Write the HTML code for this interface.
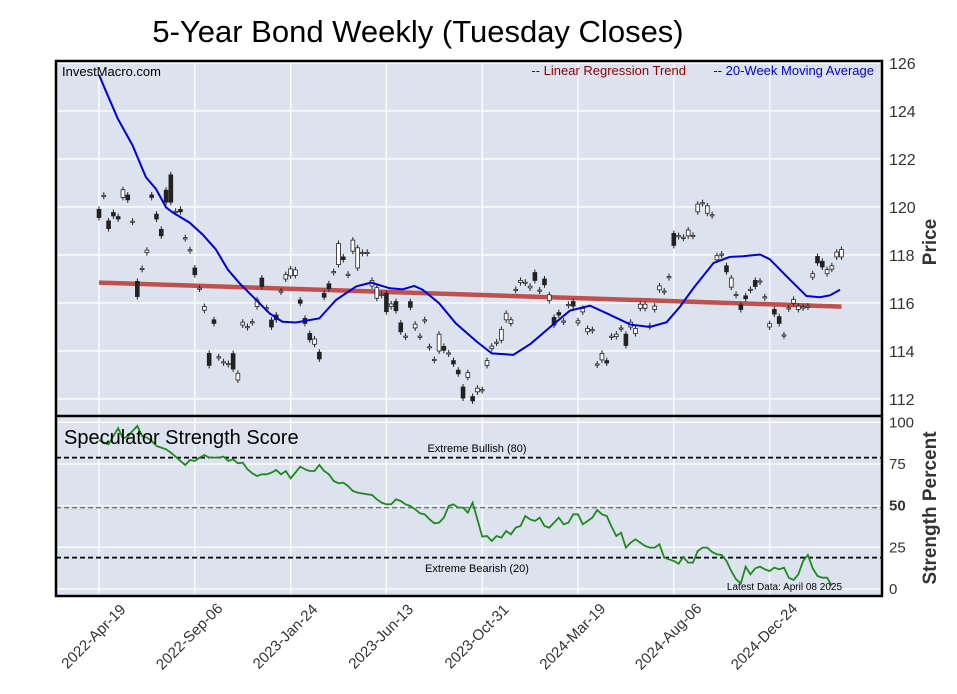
<!DOCTYPE html>
<html><head><meta charset="utf-8"><style>
html,body{margin:0;padding:0;background:#fff;}
svg{display:block;font-family:"Liberation Sans",Arial,sans-serif;}
</style></head><body>
<svg id="chart" width="957" height="694" viewBox="0 0 957 694">
<text x="418" y="42" font-size="31" text-anchor="middle" fill="#000">5-Year Bond Weekly (Tuesday Closes)</text>
<rect x="56" y="61" width="826" height="535" fill="#dde3ee"/>
<g id="grid"></g>
<g id="marks"></g>
<rect x="56" y="61" width="826" height="535" fill="none" stroke="#000" stroke-width="2.5"/>
<line x1="56" y1="416" x2="882" y2="416" stroke="#000" stroke-width="2.5"/>
<text x="62" y="76" font-size="13" fill="#000">InvestMacro.com</text>
<text x="686" y="75" font-size="13" fill="#8b0000" text-anchor="end">-- Linear Regression Trend</text>
<text x="874" y="75" font-size="13" fill="#0000cc" text-anchor="end">-- 20-Week Moving Average</text>
<text x="64" y="444" font-size="20" fill="#000">Speculator Strength Score</text>
<text x="477" y="452" font-size="11" fill="#000" text-anchor="middle">Extreme Bullish (80)</text>
<text x="477" y="572" font-size="11" fill="#000" text-anchor="middle">Extreme Bearish (20)</text>
<text x="842" y="590" font-size="10" fill="#000" text-anchor="end">Latest Data: April 08 2025</text>
<text transform="translate(936,242) rotate(-90)" font-size="19" font-weight="bold" fill="#333" text-anchor="middle">Price</text>
<text transform="translate(936,508) rotate(-90)" font-size="19" font-weight="bold" fill="#333" text-anchor="middle">Strength Percent</text>
<g id="axes"></g>
</svg>
<script>
const priceTicks=[126,124,122,120,118,116,114,112];
const strengthTicks=[100,75,50,25,0];
const dateLabels=["2022-Apr-19","2022-Sep-06","2023-Jan-24","2023-Jun-13","2023-Oct-31","2024-Mar-19","2024-Aug-06","2024-Dec-24"];
const dateWeeks=[0,20,40,60,80,100,120,140];
const opens=[119.9,120.45,119.42,119.77,119.6,120.4,120.5,119.37,116.9,117.4,118.1,120.5,119.7,119.07,120.7,121.34,119.78,119.9,118.68,118.18,117.46,116.58,115.7,113.9,115.3,113.72,113.51,113.44,113.89,112.79,115.08,114.98,115.18,115.85,117.04,115.76,115.29,115.5,116.46,117.0,117.13,117.15,116.13,115.36,114.73,114.28,113.95,116.4,116.8,117.27,117.6,117.92,117.16,118.16,117.46,118.07,118.07,116.71,116.2,116.32,116.4,115.85,116.06,115.17,114.58,116.06,114.96,114.58,115.26,114.14,113.61,114.0,114.19,113.88,113.6,113.2,112.5,112.9,112.1,112.3,112.35,113.4,114.1,114.33,114.45,115.3,115.15,116.53,116.85,116.83,116.63,117.27,116.5,117.0,116.1,115.4,115.6,115.21,115.9,116.06,115.17,115.63,114.8,114.85,113.42,113.63,113.6,114.58,114.6,114.92,114.7,115.0,114.73,115.78,115.78,115.01,115.73,116.55,116.46,117.06,118.9,118.77,118.7,118.8,118.78,119.8,120.14,119.74,119.64,117.8,118.0,117.55,116.66,116.32,115.92,116.3,116.53,116.94,116.88,116.22,115.0,115.73,115.43,114.63,115.76,115.99,115.73,115.8,115.83,117.08,117.94,117.74,117.22,117.41,117.92,117.92];
const closes=[119.56,120.49,119.1,119.63,119.5,120.72,120.3,119.41,116.27,117.44,118.2,120.4,119.5,118.8,120.2,120.2,119.82,119.8,118.72,118.22,117.18,116.62,115.85,113.4,115.15,113.76,113.55,113.48,113.25,113.07,115.2,115.02,115.22,116.13,116.69,115.8,115.0,115.3,116.5,117.18,117.42,117.38,115.99,115.15,114.47,114.5,113.67,116.24,116.6,117.31,118.48,117.81,117.2,118.62,118.3,118.11,118.11,116.94,116.64,116.36,115.64,115.96,115.68,114.8,114.62,115.82,115.12,114.62,115.3,114.18,113.65,114.7,114.03,113.92,113.46,113.05,112.04,113.1,111.92,112.45,112.39,113.6,114.2,114.37,114.9,115.57,115.3,116.57,116.94,116.87,116.7,116.94,116.54,116.76,116.34,115.08,115.5,115.25,115.94,115.87,115.26,115.77,114.94,114.89,113.46,113.9,113.5,114.62,114.7,114.96,114.23,115.2,114.94,115.95,115.95,115.05,115.87,116.71,116.5,117.1,118.4,118.81,118.74,119.04,118.82,120.12,120.18,120.05,119.68,117.97,118.04,117.3,117.04,116.36,115.73,116.18,116.57,116.69,116.92,116.26,115.14,115.54,115.15,114.67,115.8,116.15,115.87,115.84,115.87,117.22,117.67,117.5,117.39,117.55,118.12,118.23];
const maWeeks=[0,1.5,3.9,7,9.8,11.9,14,15.4,18.9,21.6,24.4,26.9,29.3,32.8,35.6,38.3,41.1,46,49.5,53.7,56.8,60.6,63.4,65.8,67.6,71,74.5,78.8,82,86.5,90.1,94.2,98.3,102.5,106,111,115,118.5,121.3,124.1,128.3,131.7,134.5,138,140,143.6,147.7,150.5,152.6,154.7];
const maValues=[125.51,124.8,123.69,122.57,121.24,120.75,119.98,119.77,119.35,118.86,118.23,117.39,116.83,116.13,115.57,115.22,115.19,115.36,116.13,116.69,116.85,116.62,116.57,116.71,116.55,115.99,115.15,114.4,113.9,113.84,114.3,115.0,115.68,115.89,115.57,115.1,115.0,115.2,115.85,116.62,117.67,117.92,117.95,118.02,117.83,117.1,116.29,116.24,116.32,116.55];
const regWeeks=[0,155];
const regValues=[116.85,115.85];
const strength=[90.6,89,88,93,97.6,91.6,92.6,96,99,93,92,90,87,86,85,83,80.6,78,75.6,78.6,78,80,81.6,80,80,80,80.6,78,79,76.6,77,73,70.6,69,70,70,71,72.6,70,72,67.6,71,74.6,73,72,72,75.6,72,70,66,64.6,65,63,60,59,58.5,58,57.6,55,53,52,52,55,54,52,51,49,46.6,46,43,40.6,41,44,51,52,50,50,47,53,43,32.6,33,30,33,32,36,34,38,39,45,43,42,44,39,38,41,44,40,41,46,46,40,42,44,48.6,46,45,38.6,33,35,26,29,31,29,27,26,26,28,20,19,18,16.4,20.4,17,17,24,26,26,23.4,22,21.6,18,12,7,4.6,14.6,10,13.6,14.6,13,12,14,13,14,8,6.6,10,18,21.6,13.6,9,8,8,3.2];

const NS="http://www.w3.org/2000/svg";
const X0=99, DX=4.79;
function xw(w){return X0+w*DX;}
function yp(p){return 63+(126-p)*24;}
function ys(v){return 591-v*1.667;}
function mk(tag,attrs,parent){const e=document.createElementNS(NS,tag);for(const k in attrs)e.setAttribute(k,attrs[k]);parent.appendChild(e);return e;}
const grid=document.getElementById('grid'),marks=document.getElementById('marks'),axes=document.getElementById('axes');

priceTicks.forEach(t=>{
  const l=mk('line',{x1:56,x2:882,y1:yp(t),y2:yp(t),stroke:'#fff','stroke-width':1.3},grid);
  
  
  const tx=mk('text',{x:889,y:yp(t)+6,'font-size':16,fill:'#333'},axes);tx.textContent=t;
  
  
});
strengthTicks.forEach(t=>{
  const l=mk('line',{x1:56,x2:882,y1:ys(t)-2,y2:ys(t)-2,stroke:'#fff','stroke-width':1.3},grid);
  
  
  const tx=mk('text',{x:889,y:ys(t)+3,'font-size':15,fill:'#333','font-weight':t===50?'bold':'normal'},axes);tx.textContent=t;
  
  
});
dateWeeks.forEach((w,i)=>{
  const x=xw(w);
  const l=mk('line',{x1:x,x2:x,y1:61,y2:596,stroke:'#fff','stroke-width':1.3},grid);
  
  
  const tx=mk('text',{transform:`translate(${x-2},${640}) rotate(-45)`,'font-size':15,fill:'#333','text-anchor':'middle'},axes);tx.textContent=dateLabels[i];
  
  
});
[[80,'#000',1.8,'5,3'],[50,'#777',1.5,'5,3'],[20,'#000',1.8,'5,3']].forEach(r=>{
  const l=mk('line',{x1:56,x2:882,y1:ys(r[0]),y2:ys(r[0]),stroke:r[1],'stroke-width':r[2],'stroke-dasharray':r[3]},grid);
  
  
});

const reg=mk('line',{x1:xw(regWeeks[0]),y1:yp(regValues[0]),x2:xw(regWeeks[1]),y2:yp(regValues[1]),stroke:'#c0504d','stroke-width':4.5},marks);



opens.forEach((o,i)=>{
  const c=closes[i],x=xw(i);
  const top=yp(Math.max(o,c)),bot=yp(Math.min(o,c));
  const w=mk('line',{x1:x,x2:x,y1:top-3,y2:bot+3,stroke:'#222','stroke-width':1},marks);
  
  
  const h=Math.max(bot-top,1.2);
  const r=mk('rect',{x:x-1.9,y:top,width:3.8,height:h,fill:c<o?'#222':'#fff',stroke:'#222','stroke-width':0.8},marks);
  
  
});

const ma=mk('polyline',{points:maWeeks.map((w,i)=>xw(w)+','+yp(maValues[i])).join(' '),fill:'none',stroke:'#0000dd','stroke-width':2},marks);



const sl=mk('polyline',{points:strength.map((v,i)=>xw(i)+','+ys(v)).join(' '),fill:'none',stroke:'#1e8a1e','stroke-width':1.8},marks);


</script>
</body></html>
